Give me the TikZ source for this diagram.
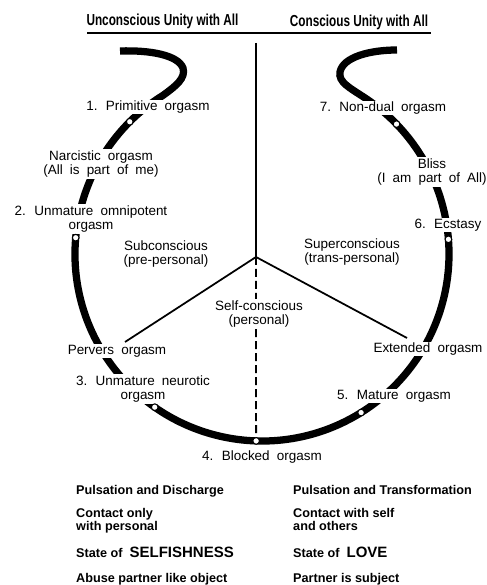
\documentclass[tikz,border=0pt]{standalone}
\usepackage{fontspec}
\setmainfont{Liberation Sans}
\newfontfamily\stagefont{Liberation Sans}[WordSpace=1.9]
\newfontfamily\headfont{Liberation Sans}[FakeStretch=0.74]
\usetikzlibrary{calc}

\begin{document}
\begin{tikzpicture}[x=0.03cm,y=0.03cm,
  ring/.style={line width=6.2pt},
  headrule/.style={line width=1.6pt},
  spoke/.style={line width=1.5pt},
  stage/.style={circle,draw,fill=white,line width=0.9pt,inner sep=0pt,minimum size=0.2cm},
  lbl/.style={fill=white,inner sep=1pt,align=center,font=\stagefont\fontsize{11.5}{12.5}\selectfont},
  note/.style={anchor=base west,align=left,inner sep=0pt,font=\bfseries\fontsize{10.8}{11.5}\selectfont},
  headtxt/.style={font=\headfont\bfseries\fontsize{13.6}{16}\selectfont}]
\useasboundingbox (0,0) rectangle (487,585);
\coordinate (C) at (262,331);
\coordinate (top) at (256,542);
\coordinate (apex) at (256,328);
\coordinate (legL) at (125,243);
\coordinate (legR) at (407,247);
\coordinate (p1) at ($(C)+(135:187)$);
\coordinate (p2) at ($(C)+(175:187)$);
\coordinate (p3) at ($(C)+(235:187)$);
\coordinate (p4) at ($(C)+(268.2:187)$);
\coordinate (p5) at ($(C)+(302:187)$);
\coordinate (p6) at ($(C)+(4.5:187)$);
\coordinate (p7) at ($(C)+(44:187)$);
\node[headtxt] (uhead) at (162.5,564) {Unconscious Unity with All};
\node[headtxt] (chead) at (359,563) {Conscious Unity with All};
\draw[headrule] (87,552) -- (431,552);
\draw[ring] (120,534) .. controls (150,535) and (178,530) .. (183,517) .. controls (186,507) and (176,499) .. ($(C)+(122:187)$) arc[start angle=122,end angle=417,radius=187] .. controls (350,497) and (338,503) .. (340,513) .. controls (343,528) and (370,535) .. (397,535);
\draw[spoke] (top) -- (apex);
\draw[spoke] (legL) -- (apex) -- (legR);
\draw[spoke,dash pattern=on 0.24cm off 0.12cm] (apex) -- (p4);
\node[lbl] (l1) at (148,478) {1. Primitive orgasm};
\node[lbl] (narc) at (101,421) {Narcistic orgasm\\(All is part of me)};
\node[lbl] (l2) at (91,366) {2. Unmature omnipotent\\orgasm};
\node[lbl] (sub) at (166,331) {Subconscious\\(pre-personal)};
\node[lbl] (perv) at (117,234) {Pervers orgasm};
\node[lbl] (l3) at (143,196) {3. Unmature neurotic\\orgasm};
\node[lbl] (self) at (259,271) {Self-conscious\\(personal)};
\node[lbl] (l4) at (262,128) {4. Blocked orgasm};
\node[lbl] (super) at (352,333) {Superconscious\\(trans-personal)};
\node[lbl] (ext) at (428,236) {Extended orgasm};
\node[lbl] (l5) at (394,189) {5. Mature orgasm};
\node[lbl] (l6) at (448,360) {6. Ecstasy};
\node[lbl] (bliss) at (432,413) {Bliss\\(I am part of All)};
\node[lbl] (l7) at (383,477) {7. Non-dual orgasm};
\node[stage] (s1) at (p1) {};
\node[stage] (s2) at (p2) {};
\node[stage] (s3) at (p3) {};
\node[stage] (s4) at (p4) {};
\node[stage] (s5) at (p5) {};
\node[stage] (s6) at (p6) {};
\node[stage] (s7) at (p7) {};
\node[note] (pd) at (76,90) {Pulsation and Discharge};
\node[note] (co) at (76,54) {Contact only\\with personal};
\node[note] (sf) at (76,27) {State of \ {\fontsize{12.8}{14}\selectfont SELFISHNESS}};
\node[note] (ab) at (76,2) {Abuse partner like object};
\node[note] (pt) at (293,90) {Pulsation and Transformation};
\node[note] (cs) at (293,54) {Contact with self\\and others};
\node[note] (sl) at (293,27) {State of \ {\fontsize{12.8}{14}\selectfont LOVE}};
\node[note] (ps) at (293,2) {Partner is subject};
\end{tikzpicture}
\end{document}
